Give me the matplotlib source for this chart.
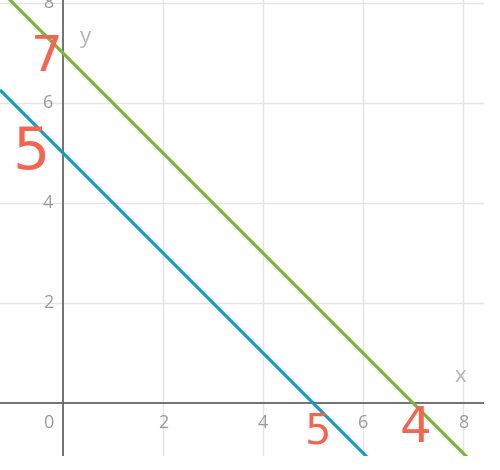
import matplotlib.pyplot as plt
import numpy as np

# two parallel lines: y = 7 - x (green) and y = 5 - x (blue)
intercepts = [7, 5]
line_colors = ['#7cb342', '#1a9bc4']
tick_values = [2, 4, 6, 8]

# handwritten notes on the picture
note_texts = ['7', '5', '5', '4']
note_x = [-0.32, -0.64, 5.1, 7.04]
note_y = [6.92, 5.0, -0.58, -0.5]
note_size = [36, 42, 30, 36]

xmin, xmax = -1.26, 8.42
ymin, ymax = -1.06, 8.06

fig = plt.figure(figsize=(5, 4.7), dpi=100)
ax = fig.add_axes([0, 14 / 470, 484 / 500, 456 / 470])
ax.set_xlim(xmin, xmax)
ax.set_ylim(ymin, ymax)

for t in tick_values:
    ax.axvline(t, color='#e4e4e4', lw=1, zorder=0)
    ax.axhline(t, color='#e4e4e4', lw=1, zorder=0)
ax.axhline(0, color='#666666', lw=1.3, zorder=1)
ax.axvline(0, color='#666666', lw=1.3, zorder=1)

xs = np.array([xmin, xmax])
for b, c in zip(intercepts, line_colors):
    ax.plot(xs, b - xs, color=c, lw=2.3, zorder=2, solid_capstyle='butt')

grey = '#9a9a9a'
for t in tick_values:
    ax.text(t, -0.4, str(t), color=grey, fontsize=13, family='Open Sans',
            ha='center', va='center')
    ax.text(-0.3, t, str(t), color=grey, fontsize=13, family='Open Sans',
            ha='center', va='center')
ax.text(-0.3, -0.4, '0', color=grey, fontsize=13, family='Open Sans',
        ha='center', va='center')
ax.text(7.94, 0.52, 'x', color='#b5b5b5', fontsize=16, family='Open Sans',
        ha='center', va='center')
ax.text(0.46, 7.32, 'y', color='#b5b5b5', fontsize=16, family='Open Sans',
        ha='center', va='center')

for s, x, y, fs in zip(note_texts, note_x, note_y, note_size):
    ax.text(x, y, s, color='#f06650', fontsize=fs, fontweight='normal',
            family='DejaVu Sans', ha='center', va='center', zorder=3)

ax.axis('off')
fig.savefig('out.png', dpi=100, facecolor='white')
